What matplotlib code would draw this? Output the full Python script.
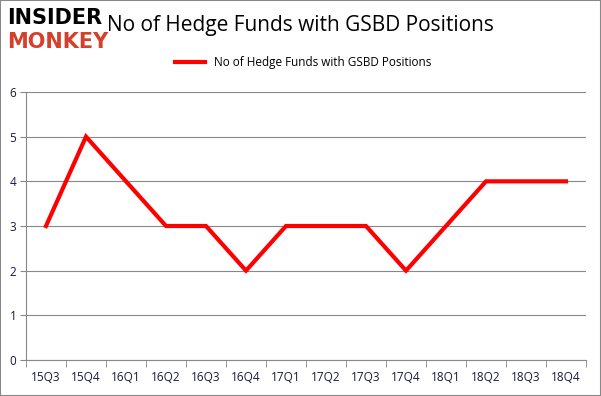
import matplotlib
matplotlib.use("Agg")
import matplotlib.pyplot as plt
from matplotlib.patches import Rectangle

quarters = ["15Q3", "15Q4", "16Q1", "16Q2", "16Q3", "16Q4", "17Q1",
            "17Q2", "17Q3", "17Q4", "18Q1", "18Q2", "18Q3", "18Q4"]
funds = [3, 5, 4, 3, 3, 2, 3, 3, 3, 2, 3, 4, 4, 4]
label = "No of Hedge Funds with GSBD Positions"

plt.rcParams['font.family'] = ['Open Sans', 'DejaVu Sans']

fig = plt.figure(figsize=(6.01, 3.96), dpi=100)
ax = fig.add_axes([26/601, 36/396, 560/601, 268/396])

x = list(range(len(quarters)))
ax.plot(x, funds, color="#ff0000", lw=3, label=label, solid_joinstyle="miter")

ax.set_xlim(-0.5, len(quarters) - 0.5)
ax.set_ylim(0, 6)
ax.set_yticks(range(7))
ax.set_xticks(x)
ax.set_xticklabels(quarters, fontsize=8.5, color="#1a1a3a")
ax.tick_params(axis="x", length=0, pad=8)
ax.tick_params(axis="y", length=4, color="#888888", labelsize=8.5, pad=3,
               labelcolor="#1a1a3a")
ax.set_xticks([i - 0.5 for i in range(len(quarters) + 1)], minor=True)
ax.tick_params(axis="x", which="minor", length=5, color="#888888")
ax.grid(axis="y", color="#888888", lw=0.8)
ax.set_axisbelow(True)
for s in ["top", "right"]:
    ax.spines[s].set_visible(False)
for s in ["left", "bottom"]:
    ax.spines[s].set_color("#888888")

ax.legend(loc="upper center", bbox_to_anchor=(0.495, 1.175), frameon=False,
          fontsize=8.5, handlelength=2.5)

fig.text(0.5, 0.935, label, ha="center", va="center", fontsize=15)

# logo
fig.text(0.012, 0.955, "INSIDER", fontsize=15, fontweight="heavy", color="black",
         va="center", family="DejaVu Sans")
fig.text(0.012, 0.895, "MONKEY", fontsize=15, fontweight="heavy", color="#d63f2a",
         va="center", family="DejaVu Sans")

fig.patches.append(Rectangle((0, 0), 1, 1, transform=fig.transFigure, fill=False,
                             edgecolor="#888888", lw=1.5))

fig.savefig("out.png", dpi=100)
